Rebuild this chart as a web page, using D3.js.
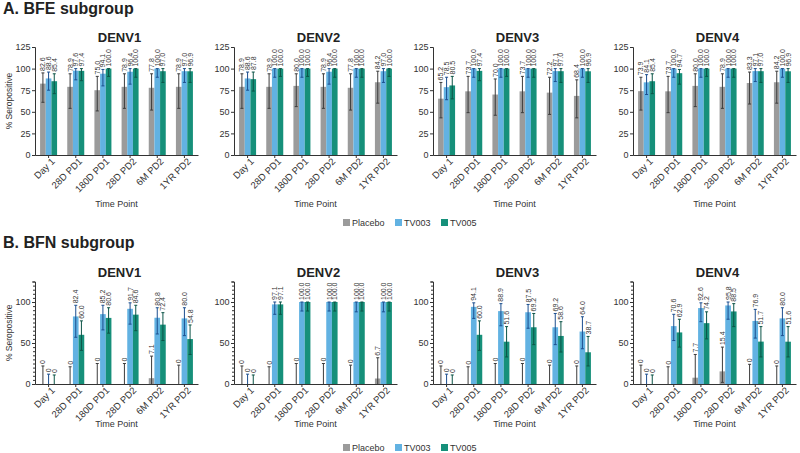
<!DOCTYPE html>
<html><head><meta charset="utf-8">
<script src="https://cdn.jsdelivr.net/npm/d3@7/dist/d3.min.js"></script>
<style>
body{margin:0;background:#fff;}
svg{display:block;font-family:"Liberation Sans",Arial,sans-serif;}
</style></head>
<body><svg id="c" width="800" height="453"></svg>
<script>
// ---------- DATA ----------
const categories = ["Day 1","28D PD1","180D PD1","28D PD2","6M PD2","1YR PD2"];
const seriesNames = ["Placebo","TV003","TV005"];
const serotypes = ["DENV1","DENV2","DENV3","DENV4"];
const yTicksA = [0,25,50,75,100,125];
const yTicksB = [0,50,100];

// A. BFE subgroup values (%), and 95% CI [low, high]
const A_DENV1_Placebo = [82.6,78.9,75.0,78.9,77.8,78.9];
const A_DENV1_TV003   = [88.6,97.6,94.1,96.4,100.0,97.0];
const A_DENV1_TV005   = [85.4,97.4,100.0,100.0,97.0,96.9];
const A_DENV1_Placebo_CI = [[61,95],[54,94],[51,91],[54,94],[52,94],[54,94]];
const A_DENV1_TV003_CI   = [[75,96],[87,100],[80,99],[82,100],[90,100],[84,100]];
const A_DENV1_TV005_CI   = [[71,94],[86,100],[91,100],[90,100],[84,100],[84,100]];

const A_DENV2_Placebo = [78.9,78.9,80.0,78.9,77.8,84.2];
const A_DENV2_TV003   = [88.6,100.0,100.0,96.4,100.0,97.0];
const A_DENV2_TV005   = [87.8,100.0,100.0,100.0,100.0,100.0];
const A_DENV2_Placebo_CI = [[54,94],[54,94],[56,94],[54,94],[52,94],[60,97]];
const A_DENV2_TV003_CI   = [[75,96],[90,100],[90,100],[82,100],[90,100],[84,100]];
const A_DENV2_TV005_CI   = [[74,96],[91,100],[91,100],[90,100],[90,100],[91,100]];

const A_DENV3_Placebo = [65.2,73.7,70.0,73.7,72.2,68.4];
const A_DENV3_TV003   = [78.5,100.0,100.0,100.0,97.1,100.0];
const A_DENV3_TV005   = [80.5,97.4,100.0,100.0,97.0,96.9];
const A_DENV3_Placebo_CI = [[43,84],[49,91],[46,88],[49,91],[47,90],[43,87]];
const A_DENV3_TV003_CI   = [[64,90],[90,100],[90,100],[90,100],[85,100],[90,100]];
const A_DENV3_TV005_CI   = [[65,91],[86,100],[91,100],[90,100],[84,100],[84,100]];

const A_DENV4_Placebo = [73.9,73.7,80.0,78.9,83.3,84.2];
const A_DENV4_TV003   = [84.1,100.0,100.0,100.0,97.1,100.0];
const A_DENV4_TV005   = [85.4,94.7,100.0,100.0,97.0,96.9];
const A_DENV4_Placebo_CI = [[52,90],[49,91],[56,94],[54,94],[59,96],[60,97]];
const A_DENV4_TV003_CI   = [[70,93],[90,100],[90,100],[90,100],[85,100],[90,100]];
const A_DENV4_TV005_CI   = [[71,94],[82,99],[91,100],[90,100],[84,100],[84,100]];

// B. BFN subgroup
const B_DENV1_Placebo = [0,0,0,0,7.1,0];
const B_DENV1_TV003   = [0,82.4,85.2,91.7,80.8,80.0];
const B_DENV1_TV005   = [0,60.0,80.6,84.6,72.4,54.8];
const B_DENV1_Placebo_CI = [[0,22],[0,21],[0,25],[0,25],[0,34],[0,23]];
const B_DENV1_TV003_CI   = [[0,12],[57,96],[66,96],[73,99],[61,93],[59,93]];
const B_DENV1_TV005_CI   = [[0,11],[41,77],[62,93],[65,96],[53,87],[36,72]];

const B_DENV2_Placebo = [0,0,0,0,0,6.7];
const B_DENV2_TV003   = [0,97.1,100.0,100.0,100.0,100.0];
const B_DENV2_TV005   = [0,97.1,100.0,100.0,100.0,100.0];
const B_DENV2_Placebo_CI = [[0,22],[0,21],[0,25],[0,25],[0,23],[0,32]];
const B_DENV2_TV003_CI   = [[0,12],[85,100],[89,100],[89,100],[88,100],[88,100]];
const B_DENV2_TV005_CI   = [[0,11],[85,100],[89,100],[89,100],[89,100],[89,100]];

const B_DENV3_Placebo = [0,0,0,0,0,0];
const B_DENV3_TV003   = [0,94.1,88.9,87.5,69.2,64.0];
const B_DENV3_TV005   = [0,60.0,51.6,69.2,58.6,38.7];
const B_DENV3_Placebo_CI = [[0,22],[0,21],[0,25],[0,25],[0,23],[0,22]];
const B_DENV3_TV003_CI   = [[0,12],[80,99],[71,98],[68,97],[48,86],[43,82]];
const B_DENV3_TV005_CI   = [[0,11],[41,77],[33,70],[48,86],[39,76],[22,58]];

const B_DENV4_Placebo = [0,0,7.7,15.4,0,0];
const B_DENV4_TV003   = [0,70.6,92.6,95.8,76.9,80.0];
const B_DENV4_TV005   = [0,62.9,74.2,88.5,51.7,51.6];
const B_DENV4_Placebo_CI = [[0,23],[0,21],[0,36],[2,45],[0,24],[0,22]];
const B_DENV4_TV003_CI   = [[0,12],[53,85],[76,99],[79,100],[56,91],[59,93]];
const B_DENV4_TV005_CI   = [[0,11],[45,79],[55,88],[70,98],[33,70],[33,70]];

const dataSets = {
  A: {
    DENV1:[A_DENV1_Placebo,A_DENV1_TV003,A_DENV1_TV005], DENV1ci:[A_DENV1_Placebo_CI,A_DENV1_TV003_CI,A_DENV1_TV005_CI],
    DENV2:[A_DENV2_Placebo,A_DENV2_TV003,A_DENV2_TV005], DENV2ci:[A_DENV2_Placebo_CI,A_DENV2_TV003_CI,A_DENV2_TV005_CI],
    DENV3:[A_DENV3_Placebo,A_DENV3_TV003,A_DENV3_TV005], DENV3ci:[A_DENV3_Placebo_CI,A_DENV3_TV003_CI,A_DENV3_TV005_CI],
    DENV4:[A_DENV4_Placebo,A_DENV4_TV003,A_DENV4_TV005], DENV4ci:[A_DENV4_Placebo_CI,A_DENV4_TV003_CI,A_DENV4_TV005_CI]
  },
  B: {
    DENV1:[B_DENV1_Placebo,B_DENV1_TV003,B_DENV1_TV005], DENV1ci:[B_DENV1_Placebo_CI,B_DENV1_TV003_CI,B_DENV1_TV005_CI],
    DENV2:[B_DENV2_Placebo,B_DENV2_TV003,B_DENV2_TV005], DENV2ci:[B_DENV2_Placebo_CI,B_DENV2_TV003_CI,B_DENV2_TV005_CI],
    DENV3:[B_DENV3_Placebo,B_DENV3_TV003,B_DENV3_TV005], DENV3ci:[B_DENV3_Placebo_CI,B_DENV3_TV003_CI,B_DENV3_TV005_CI],
    DENV4:[B_DENV4_Placebo,B_DENV4_TV003,B_DENV4_TV005], DENV4ci:[B_DENV4_Placebo_CI,B_DENV4_TV003_CI,B_DENV4_TV005_CI]
  }
};

// ---------- STYLE / LAYOUT ----------
const barColors = ["#9b9b9b","#62b2e2","#16907a"];
const errColors = ["#3c3c3c","#1c4f8f","#0b5447"];
const panelX = [35,234,433,633];
const panelW = 163;
const sections = [
  {key:"A", title:"A. BFE subgroup", titleY:14, top:47, bottom:155, tpY:207, legY:223, yTicks:yTicksA, minor:false},
  {key:"B", title:"B. BFN subgroup", titleY:248, top:281.5, bottom:384, tpY:427, legY:448, yTicks:yTicksB, minor:true}
];
const narrow = '"Liberation Sans Narrow","Liberation Sans",Arial,sans-serif';

const svg = d3.select("#c");

sections.forEach(sec => {
  svg.append("text").attr("x",3).attr("y",sec.titleY)
    .attr("font-size",16).attr("font-weight","bold").attr("fill","#222").text(sec.title);

  const y = d3.scaleLinear().domain([0,125]).range([sec.bottom, sec.top]);

  svg.append("text")
    .attr("transform",`translate(12,${(sec.top+sec.bottom)/2}) rotate(-90)`)
    .attr("text-anchor","middle").attr("font-size",8.5).attr("fill","#333")
    .style("font-family",narrow).text("% Seropositive");

  serotypes.forEach((st,pi) => {
    const x0 = panelX[pi];
    const g = svg.append("g");
    const x = d3.scaleBand().domain(categories).range([x0, x0+panelW]).paddingInner(0).paddingOuter(0);
    const x1 = d3.scaleBand().domain(seriesNames).range([0,17]).padding(0);
    const vals = dataSets[sec.key][st];
    const cis = dataSets[sec.key][st+"ci"];

    g.append("text").attr("x",x0+panelW/2+3).attr("y",sec.top-5)
      .attr("text-anchor","middle").attr("font-size",13).attr("font-weight","bold").attr("fill","#222").text(st);

    seriesNames.forEach((s,si) => {
      const bx = c => x(c) + (x.bandwidth()-17)/2 + x1(s);
      g.selectAll(null).data(categories).enter().append("rect")
        .attr("x", c => bx(c))
        .attr("width", x1.bandwidth())
        .attr("y", (c,i) => y(vals[si][i]))
        .attr("height", (c,i) => y(0)-y(vals[si][i]))
        .attr("fill", barColors[si]);
    });
    seriesNames.forEach((s,si) => {
      const cx = c => x(c) + (x.bandwidth()-17)/2 + x1(s) + x1.bandwidth()/2;
      categories.forEach((c,i) => {
        const [lo,hi] = cis[si][i];
        const X = cx(c);
        g.append("line").attr("x1",X).attr("x2",X).attr("y1",y(lo)).attr("y2",y(hi))
          .attr("stroke",errColors[si]).attr("stroke-width",1);
        g.append("line").attr("x1",X-1.5).attr("x2",X+1.5).attr("y1",y(hi)).attr("y2",y(hi))
          .attr("stroke",errColors[si]).attr("stroke-width",1);
        if (lo>0) g.append("line").attr("x1",X-1.5).attr("x2",X+1.5).attr("y1",y(lo)).attr("y2",y(lo))
          .attr("stroke",errColors[si]).attr("stroke-width",1);
        const v = vals[si][i];
        g.append("text")
          .attr("transform",`translate(${X},${y(hi)-2}) rotate(-90)`)
          .attr("dy","0.35em").attr("font-size",7).attr("fill","#333")
          .style("font-family",narrow)
          .text(v===0 ? "0" : v.toFixed(1));
      });
    });

    const yAxis = d3.axisLeft(y).tickValues(sec.yTicks).tickSize(3).tickPadding(1.5);
    const ya = g.append("g").attr("transform",`translate(${x0},0)`).call(yAxis);
    if (sec.minor) {
      g.append("g").attr("transform",`translate(${x0},0)`)
        .call(d3.axisLeft(y).tickValues(d3.range(0,126,5)).tickSize(2).tickFormat(""))
        .call(a=>a.select(".domain").remove())
        .selectAll("line").attr("stroke","#333");
    }
    ya.select(".domain").attr("stroke","#333");
    ya.selectAll(".tick line").attr("stroke","#333");
    ya.selectAll("text").attr("font-size",9).attr("fill","#333").style("font-family",narrow);

    const xa = g.append("g").attr("transform",`translate(0,${sec.bottom})`)
      .call(d3.axisBottom(x).tickSize(3).tickSizeOuter(0));
    xa.select(".domain").attr("stroke","#333");
    xa.selectAll(".tick line").attr("stroke","#333");
    xa.selectAll("text")
      .attr("font-size",9.5).attr("fill","#333")
      .attr("text-anchor","end").attr("dy",0).attr("y",0).attr("x",0)
      .attr("transform","translate(7,7) rotate(-45)");

    g.append("text").attr("x",x0+panelW/2).attr("y",sec.tpY)
      .attr("text-anchor","middle").attr("font-size",9).attr("fill","#333")
      .style("font-family",narrow).text("Time Point");
  });

  const legX = [343,395,441];
  seriesNames.forEach((s,si) => {
    svg.append("rect").attr("x",legX[si]).attr("y",sec.legY-4).attr("width",7).attr("height",7).attr("fill",barColors[si]);
    svg.append("text").attr("x",legX[si]+9).attr("y",sec.legY+3).attr("font-size",9).attr("fill","#333")
      .style("font-family",narrow).text(s);
  });
});
</script></body></html>
